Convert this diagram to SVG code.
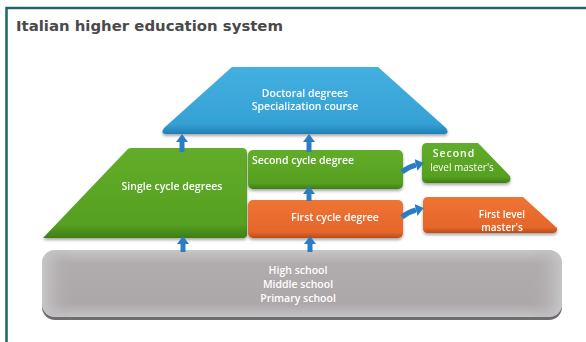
<svg xmlns="http://www.w3.org/2000/svg" width="586" height="342" viewBox="0 0 586 342">
<defs>
<style>
.t{font-family:"Open Sans","DejaVu Sans",sans-serif;font-weight:600;font-size:10.5px;fill:#ffffff;text-anchor:middle}
.title{font-family:"DejaVu Sans",sans-serif;font-weight:bold;font-size:14.5px;fill:#4a4a4a}
.arr{stroke:#2b7cc2;stroke-width:5;fill:none;marker-end:url(#ah)}
</style>
<marker id="ah" markerUnits="userSpaceOnUse" markerWidth="8" markerHeight="12" refX="0" refY="6" orient="auto" viewBox="0 0 8 12">
<path d="M0,0 L8,6 L0,12 z" fill="#2b7cc2"/>
</marker>
<linearGradient id="gBlue" x1="0" y1="0" x2="0" y2="1">
<stop offset="0" stop-color="#43b0e0"/><stop offset="0.85" stop-color="#35a1d5"/><stop offset="1" stop-color="#1f7fb5"/>
</linearGradient>
<linearGradient id="gGreen" x1="0" y1="0" x2="0" y2="1">
<stop offset="0" stop-color="#62ad2a"/><stop offset="0.85" stop-color="#56a021"/><stop offset="1" stop-color="#3e7d15"/>
</linearGradient>
<linearGradient id="gOrange" x1="0" y1="0" x2="0" y2="1">
<stop offset="0" stop-color="#ee7434"/><stop offset="0.85" stop-color="#e5662a"/><stop offset="1" stop-color="#b84c18"/>
</linearGradient>
<linearGradient id="gGray" x1="0" y1="0" x2="0" y2="1">
<stop offset="0" stop-color="#c8c6c7"/><stop offset="0.2" stop-color="#b0abad"/><stop offset="0.8" stop-color="#aca7a9"/><stop offset="1" stop-color="#c4c3c6"/>
</linearGradient>
<linearGradient id="gGrayH" x1="0" y1="0" x2="1" y2="0">
<stop offset="0" stop-color="#c9c9cb" stop-opacity="0.9"/><stop offset="0.06" stop-color="#b0abad" stop-opacity="0"/><stop offset="0.94" stop-color="#b0abad" stop-opacity="0"/><stop offset="1" stop-color="#c9c9cb" stop-opacity="0.9"/>
</linearGradient>
<filter id="sh" x="-10%" y="-10%" width="120%" height="130%">
<feDropShadow dx="0" dy="2" stdDeviation="1.5" flood-color="#000" flood-opacity="0.35"/>
</filter>
</defs>
<rect x="0" y="0" width="586" height="342" fill="#ffffff"/>
<path d="M6.5,342 V8 H586" fill="none" stroke="#1d6469" stroke-width="2.5"/>
<text class="title" x="16" y="31" textLength="267" lengthAdjust="spacingAndGlyphs">Italian higher education system</text>

<g id="school">
<rect x="42" y="250" width="520" height="68" rx="13" fill="#4a4a4a" transform="translate(0,2)" opacity="0.8"/>
<rect x="42" y="250" width="520" height="67" rx="13" fill="url(#gGray)"/>
<rect x="42" y="250" width="520" height="67" rx="13" fill="url(#gGrayH)"/>
<text class="t" x="298" y="274">High school</text>
<text class="t" x="298" y="288">Middle school</text>
<text class="t" x="298" y="302">Primary school</text>
</g>

<g id="doctoral" filter="url(#sh)">
<path d="M232,67 H378 L446,128 Q450,134 444,134 H166 Q160,134 164,128 Z" fill="url(#gBlue)"/>
<text class="t" x="305" y="97">Doctoral degrees</text>
<text class="t" x="305" y="110">Specialization course</text>
</g>

<g id="single" filter="url(#sh)">
<path d="M131,148 H242 Q247,148 247,153 V234 Q247,238 243,238 H43 L127,150 Q128,148 131,148 Z" fill="url(#gGreen)"/>
<text class="t" x="172" y="190">Single cycle degrees</text>
</g>

<g id="second-cycle" filter="url(#sh)">
<rect x="248" y="150" width="155" height="39" rx="5" fill="url(#gGreen)"/>
<text class="t" x="303" y="164">Second cycle degree</text>
</g>

<g id="first-cycle" filter="url(#sh)">
<rect x="248" y="200" width="155" height="38" rx="5" fill="url(#gOrange)"/>
<text class="t" x="335" y="221">First cycle degree</text>
</g>

<g id="second-master" filter="url(#sh)">
<path d="M427,143 H478 L510,176 Q512,183 505,183 H427 Q422,183 422,178 V148 Q422,143 427,143 Z" fill="url(#gGreen)"/>
<text class="t" x="454" y="157" style="letter-spacing:1px">Second</text>
<text class="t" x="462" y="171" style="font-weight:normal;font-size:10px">level master's</text>
</g>

<g id="first-master" filter="url(#sh)">
<path d="M428,197 H523 L557,228 Q558,233 552,233 H428 Q423,233 423,228 V202 Q423,197 428,197 Z" fill="url(#gOrange)"/>
<text class="t" x="502" y="218" style="font-size:10px">First level</text>
<text class="t" x="502" y="231" style="font-size:10px">master's</text>
</g>

<g id="connectors">
<line class="arr" x1="182" y1="152" x2="182" y2="142"/>
<line class="arr" x1="309" y1="152" x2="309" y2="142"/>
<line class="arr" x1="309" y1="201" x2="309" y2="194"/>
<line class="arr" x1="183" y1="252" x2="183" y2="244"/>
<line class="arr" x1="310" y1="252" x2="310" y2="244"/>
<path class="arr" d="M402,172 Q408,167 416,165"/>
<path class="arr" d="M402,217 Q408,212 416,210"/>
</g>
</svg>
